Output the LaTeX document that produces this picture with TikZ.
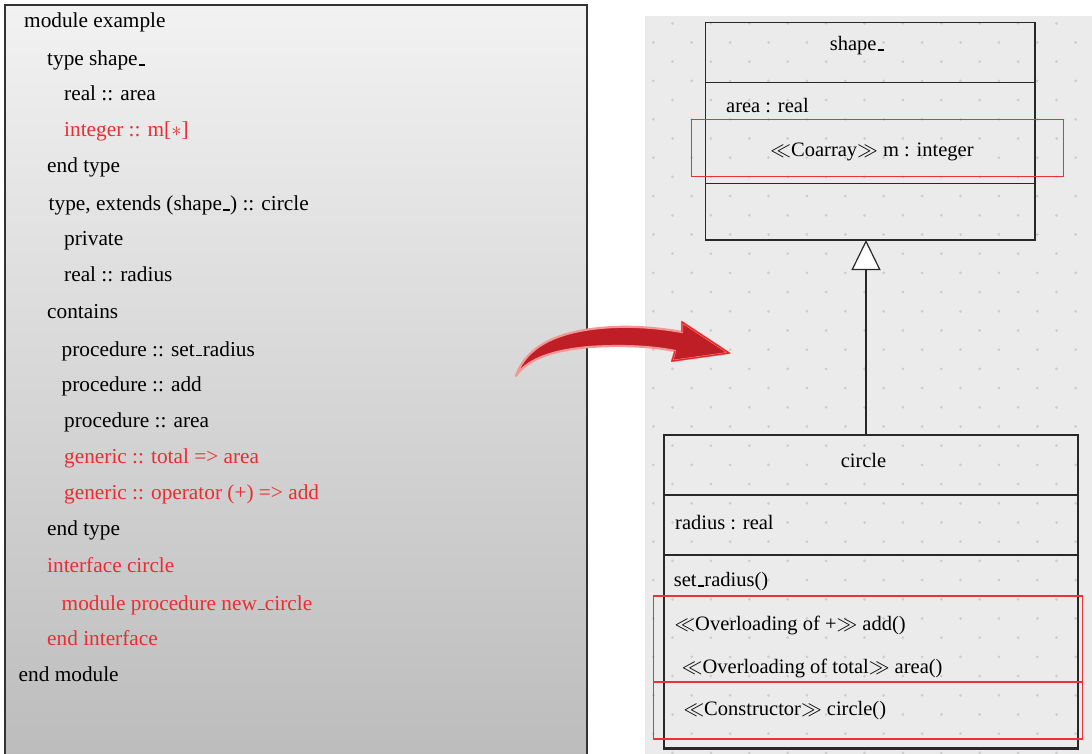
\documentclass[tikz,border=0pt]{standalone}
\usepackage{fontspec}
\setmainfont{Liberation Serif}
\usetikzlibrary{arrows.meta}
\definecolor{codered}{RGB}{236,44,48}
\definecolor{boxred}{RGB}{232,52,56}
\definecolor{panelbg}{RGB}{235,235,235}
\definecolor{dotc}{RGB}{204,204,204}
\definecolor{arrowfill}{RGB}{192,30,38}
\definecolor{arrowglow}{RGB}{245,150,150}
\definecolor{arrowedge}{RGB}{232,40,40}
\definecolor{umlline}{RGB}{40,40,40}
\newcommand{\us}{\leavevmode\kern.06em\vbox{\hrule width .3em height .07em}\kern.02em}
\begin{document}
\begin{tikzpicture}[x=1pt,y=-1pt,
  code/.style={anchor=base west, inner sep=0pt, font=\fontsize{21.3}{25}\selectfont},
  redcode/.style={code, text=codered},
  uml/.style={anchor=base west, inner sep=0pt, font=\fontsize{20.5}{24}\selectfont},
  umlc/.style={uml, anchor=base},
  hl/.style={draw=boxred, line width=1.2pt},
  umlbox/.style={draw=umlline, line width=1.3pt, minimum width=#1, inner sep=0pt},
  divider/.style={draw=umlline, line width=1.3pt}]
\useasboundingbox (0,0) rectangle (1092,754);
\clip (0,0) rectangle (1092,754);
\fill[white] (0,0) rectangle (1092,754);
% left panel
\shade[top color={rgb,255:red,241;green,242;blue,241}, bottom color={rgb,255:red,188;green,188;blue,188}] (5,5) rectangle (587,760);
\draw[line width=1.5pt, draw={rgb,255:red,50;green,50;blue,50}] (5,760) -- (5,5) -- (587,5) -- (587,760);
% right panel
\fill[panelbg] (645,15.7) rectangle (1092,760);
\foreach \i in {0,...,23}{
  \foreach \j in {0,...,38}{
    \pgfmathtruncatemacro{\dotpar}{mod(\i+\j,2)}
    \ifnum\dotpar=1
      \fill[dotc] (653.3+19.2*\i, 23.3+19.2*\j) circle (1.5);
    \fi
  }
}
% code text
\node[code] (l1) at (24,28) {module example};
\node[code] (l2) at (47,65.7) {type shape\us};
\node[code] (l3) at (64,101) {real :: area};
\node[redcode] (l4) at (64,136.7) {integer :: m[$\ast$]};
\node[code] (l5) at (47,173) {end type};
\node[code] (l6) at (48.5,210.7) {type, extends (shape\us) :: circle};
\node[code] (l7) at (64,245.7) {private};
\node[code] (l8) at (64,281.7) {real :: radius};
\node[code] (l9) at (47,318.3) {contains};
\node[code] (l10) at (61.5,356) {procedure :: set\us radius};
\node[code] (l11) at (61.5,391) {procedure :: add};
\node[code] (l12) at (64,427.7) {procedure :: area};
\node[redcode] (l13) at (64,463.3) {generic :: total => area};
\node[redcode] (l14) at (64,499.3) {generic :: operator (+) => add};
\node[code] (l15) at (47,535.7) {end type};
\node[redcode] (l16) at (47,572.7) {interface circle};
\node[redcode] (l17) at (61.5,610) {module procedure new\us circle};
\node[redcode] (l18) at (47,645) {end interface};
\node[code] (l19) at (18.5,681.7) {end module};
% arrow
\fill[arrowfill, draw=arrowglow, line width=2.2pt, line join=round]
  (516,376) .. controls (524,352) and (548,333) .. (600,328)
  .. controls (630,325) and (660,328) .. (682,332)
  -- (682,322) -- (729,353) -- (672,361) -- (675,351)
  .. controls (650,346) and (620,345) .. (590,347)
  .. controls (555,350) and (528,358) .. (516,376) -- cycle;
\draw[arrowedge, line width=1.4pt, line join=miter] (682,332) -- (682,322) -- (729,353) -- (672,361) -- (675,351);
% shape_ box
\node[umlbox=329.3pt, minimum height=217.7pt] (shapebox) at (870.35,131.15) {};
\draw[divider] (shapebox.west |- 0,82.3) -- (shapebox.east |- 0,82.3);
\draw[divider] (shapebox.west |- 0,183.7) -- (shapebox.east |- 0,183.7);
\node[umlc] (sname) at (857,50.7) {shape\us};
\node[uml] (sattr1) at (726,112.3) {area : real};
\node[umlc] (sattr2) at (872,156.7) {$\ll$Coarray$\gg$ m : integer};
\node[hl, minimum width=371.6pt, minimum height=57pt, inner sep=0pt] (shl) at (877.5,147.8) {};
% circle box
\node[umlbox=413.4pt, minimum height=314pt, line width=1.8pt] (circlebox) at (871,592) {};
\draw[divider, line width=1.8pt] (circlebox.west |- 0,495.3) -- (circlebox.east |- 0,495.3);
\draw[divider, line width=1.8pt] (circlebox.west |- 0,555.3) -- (circlebox.east |- 0,555.3);
\draw[umlline, line width=1.6pt] ([yshift=2.5pt]circlebox.south west) -- ([yshift=2.5pt]circlebox.south east);
\node[umlc] (cname) at (863.5,467.3) {circle};
\node[uml] (cattr) at (675,529) {radius : real};
\node[uml] (cop1) at (673.7,586.7) {set\us radius()};
\node[uml] (cop2) at (674.3,630) {$\ll$Overloading of +$\gg$\ add()};
\node[uml] (cop3) at (681.7,673.3) {$\ll$Overloading of total$\gg$\ area()};
\node[uml] (cop4) at (683.3,715) {$\ll$Constructor$\gg$\ circle()};
\node[hl, minimum width=429.4pt, minimum height=86pt, inner sep=0pt] (chl1) at (868,639) {};
\node[hl, minimum width=429.4pt, minimum height=57pt, inner sep=0pt] (chl2) at (868,710.5) {};
% generalization
\coordinate (gtop) at (866,240);
\coordinate (gbot) at (866,435);
\draw[umlline, line width=1.2pt, -{Triangle[length=30pt, width=29pt, fill=white]}] (gbot) -- (gtop);
\end{tikzpicture}
\end{document}
